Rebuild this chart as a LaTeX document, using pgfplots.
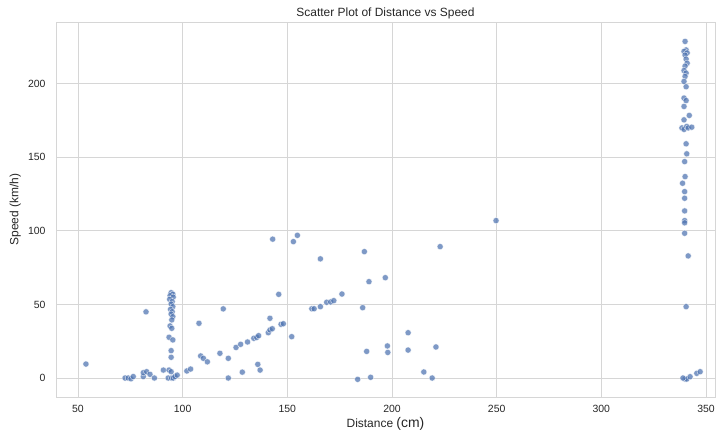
\documentclass[border=0pt]{standalone}
\usepackage{pgfplots}
\pgfplotsset{compat=1.18}
\usepackage{fontspec}
\setmainfont{Liberation Sans}
\definecolor{sbblue}{HTML}{4C72B0}
\definecolor{gridc}{HTML}{D6D6D6}
\definecolor{txt}{HTML}{262626}
\begin{document}
\begin{tikzpicture}
\begin{axis}[
  scale only axis,
  width=659bp, height=375bp,
  xmin=39.5, xmax=354.3,
  ymin=-12.9, ymax=242,
  xtick={50,100,...,350},
  ytick={0,50,100,150,200},
  grid=major,
  major grid style={gridc, line width=0.9pt},
  axis line style={gridc, line width=0.9pt},
  major tick length=0pt,
  tick label style={font=\fontsize{10.5}{12}\selectfont, text=txt},
  /pgf/number format/assume math mode=true,
  xticklabel style={yshift=-5bp},
  yticklabel style={xshift=-7bp},
  title={Scatter Plot of Distance vs Speed},
  title style={font=\fontsize{12}{14}\selectfont, text=txt, at={(axis description cs:0.5,1.016)}, anchor=base, yshift=-6bp},
  xlabel={Distance {\fontsize{14}{16}\selectfont (cm)}},
  ylabel={Speed (km/h)},
  xlabel style={font=\fontsize{12}{14}\selectfont, text=txt, at={(axis description cs:0.5,-0.082)}, anchor=base},
  ylabel style={font=\fontsize{12}{14}\selectfont, text=txt, at={(axis description cs:-0.057,0.5)}, anchor=base},
]
\addplot[only marks, mark=*, mark size=3.1pt,
  mark options={fill=sbblue, fill opacity=0.72, draw=white, draw opacity=0.8, line width=0.4pt}]
coordinates {
(53.8,9.5)
(72.5,0) (74.0,0) (75.3,-0.5) (76.4,1) (81.2,1) (81.2,3.6) (82.8,4.3) (82.5,45) (84.4,2.5) (86.5,0) (90.8,5.4)
(93.1,0) (94.7,0) (95.5,0) (96.3,1) (97.4,2) (93.5,5.4) (94.5,4.3)
(94.5,58) (95.3,57) (94,56) (95.5,55) (93.8,53.5) (95,52) (94.5,50.3) (95.3,48.5) (94.2,46.7) (95,45.1) (94.5,43.5) (95.3,41.7) (94.8,39.5) (94,35.4) (94.8,33.8) (93.5,27.7) (95.3,25.9) (94.5,18.6) (94.5,14.1)
(102,4.8) (103.8,6.1)
(107.8,37.2)
(108.6,15) (109.9,13.4) (111.8,11)
(117.8,16.8)
(119.4,47)
(121.8,13.4)
(121.8,0)
(125.5,20.8) (127.7,22.9) (131,24.5) (134,27) (135.4,27.6) (136.3,28.8)
(128.5,4)
(135.9,9.3) (137,5.4)
(140.9,30.8) (141.7,32.7) (142.8,33.5)
(141.7,40.6)
(143,94.4)
(145.9,56.9)
(147,36.5) (148.1,36.9)
(152.1,28.1)
(152.9,92.7) (154.8,97)
(165.8,81)
(161.7,47.1) (162.8,47.1) (165.8,48.5) (168.8,51.5) (170.7,51.7) (172.2,52.6)
(176.1,57.1)
(183.6,-0.9)
(186.8,85.9)
(223,89.3)
(189,65.5)
(196.8,68.2)
(186,47.8)
(207.7,30.8)
(197.8,21.8)
(187.9,18.1)
(198,17.4)
(207.7,19)
(221,21.1)
(215.2,4.1)
(219.2,0)
(189.8,0.5)
(249.7,107)
(340,228.8) (340.5,223) (339.5,222) (341,221) (340,219.5) (340.5,216.8) (341,214) (340,212) (339.5,209) (340.5,207.3) (340,205) (339.5,201.6) (340.5,198) (339.5,190.3) (340.5,188.6) (339.5,184.6) (342,178.5) (339.5,175.5) (338.5,170) (339.5,169) (340.8,171) (341.5,170) (343.2,170.5) (340.5,159.2) (340.8,152.4) (339.8,147.1) (340,136.9) (338.8,132.4) (339.8,126.7) (339.8,122.2) (339.8,113.6) (339.8,107) (339.8,105.5) (339.8,98.4) (341.5,83) (340.5,48.5)
(340,-0.7) (340.8,-0.7) (342.4,0.9) (345.6,3.2) (347.2,4.3) (339,0)
};
\end{axis}
\pgfresetboundingbox
\path[use as bounding box] (-56bp,-35bp) rectangle (665bp,397bp);
\end{tikzpicture}
\end{document}
